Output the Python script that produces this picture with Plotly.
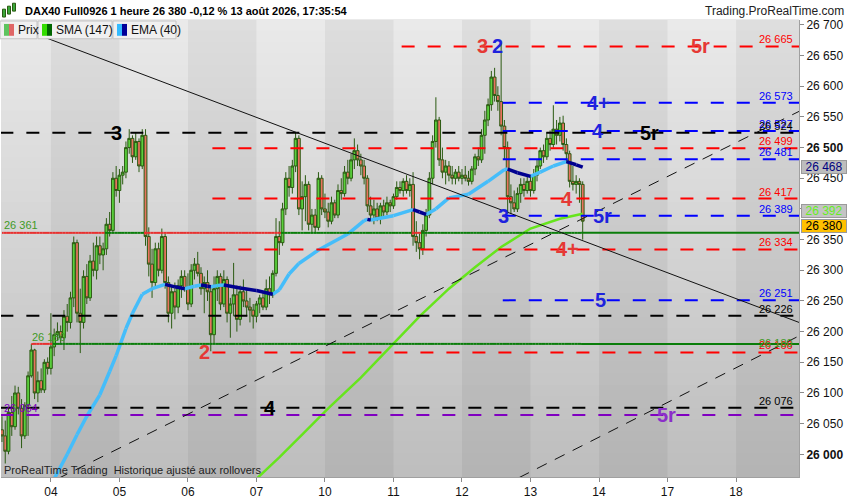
import plotly.graph_objects as go

# ---- time axis: hourly bars, 21 per session, bar 0 = Tue 04 Aug 01:00
day_labels = ['04', '05', '06', '07', '10', '11', '12', '13', '14', '17', '18']
bars_per_day = 21
first_bar = -15  # Mon 03 Aug 07:00

# ---- hourly candles
opens = [
    # 03
    26040, 26030, 26005, 26068, 26045, 26100, 26075, 26030, 26080, 26128, 26170, 26100, 26120, 26105, 26150,
    # 04
    26140, 26175, 26195, 26200, 26190, 26225, 26215, 26255, 26345, 26230, 26215, 26290, 26255, 26315, 26300,
    26340, 26325, 26335, 26375, 26365, 26450,
    # 05
    26430, 26455, 26460, 26500, 26515, 26485, 26510, 26470, 26520, 26355, 26310, 26280, 26335, 26300, 26355,
    26280, 26230, 26265, 26240, 26275, 26290,
    # 06
    26270, 26245, 26300, 26310, 26295, 26270, 26280, 26265, 26195, 26270, 26290, 26245, 26285, 26230, 26245,
    26260, 26220, 26265, 26250, 26240, 26235,
    # 07
    26225, 26245, 26255, 26240, 26270, 26260, 26295, 26355, 26345, 26400, 26450, 26435, 26470, 26515, 26400,
    26420, 26440, 26375, 26390, 26370, 26450,
    # 10
    26400, 26395, 26380, 26410, 26390, 26430, 26425, 26460, 26450, 26480, 26495, 26480, 26470, 26450, 26405,
    26390, 26400, 26385, 26405, 26395, 26410,
    # 11
    26405, 26420, 26435, 26430, 26445, 26430, 26440, 26355, 26345, 26335, 26365, 26390, 26450, 26510, 26545,
    26480, 26460, 26470, 26455, 26450, 26460,
    # 12
    26450, 26455, 26450, 26445, 26465, 26485, 26480, 26520, 26545, 26570, 26615, 26585, 26575, 26535, 26500,
    26420, 26410, 26400, 26425, 26440, 26430,
    # 13
    26445, 26430, 26455, 26470, 26495, 26485, 26515, 26505, 26530, 26520, 26540, 26505, 26490, 26445, 26440,
    26445, 26440,
]
highs = [
    26062, 26055, 26075, 26095, 26112, 26110, 26090, 26085, 26135, 26180, 26172, 26135, 26140, 26155, 26158,
    26230, 26205, 26215, 26210, 26235, 26245, 26265, 26355, 26350, 26270, 26300, 26310, 26325, 26345, 26355,
    26355, 26345, 26385, 26395, 26460, 26470,
    26465, 26470, 26510, 26530, 26520, 26525, 26515, 26530, 26530, 26370, 26335, 26345, 26345, 26368, 26360,
    26290, 26275, 26280, 26285, 26300, 26300,
    26295, 26310, 26320, 26330, 26305, 26290, 26300, 26275, 26290, 26300, 26295, 26300, 26290, 26255, 26312,
    26275, 26275, 26285, 26270, 26255, 26245,
    26250, 26260, 26265, 26285, 26290, 26300, 26385, 26380, 26410, 26460, 26470, 26480, 26525, 26520, 26445,
    26455, 26445, 26400, 26400, 26460, 26455,
    26425, 26410, 26420, 26415, 26440, 26450, 26470, 26480, 26490, 26515, 26505, 26490, 26480, 26455, 26420,
    26415, 26410, 26410, 26415, 26420, 26415,
    26425, 26445, 26445, 26450, 26455, 26450, 26460, 26380, 26360, 26375, 26400, 26460, 26520, 26582, 26550,
    26500, 26480, 26478, 26470, 26465, 26470,
    26465, 26470, 26462, 26470, 26490, 26500, 26530, 26560, 26580, 26625, 26630, 26600, 26670, 26545, 26510,
    26440, 26430, 26435, 26450, 26450, 26455,
    26455, 26465, 26480, 26500, 26505, 26525, 26528, 26569, 26545, 26550, 26552, 26515, 26495, 26470, 26455,
    26450, 26445,
]
lows = [
    26020, 25985, 26000, 26030, 26040, 26065, 26010, 26025, 26030, 26125, 26090, 26085, 26100, 26100, 26130,
    26130, 26160, 26185, 26180, 26170, 26200, 26205, 26240, 26215, 26165, 26205, 26245, 26250, 26290, 26285,
    26310, 26300, 26325, 26355, 26360, 26420,
    26410, 26440, 26450, 26490, 26475, 26480, 26460, 26465, 26340, 26290, 26255, 26270, 26290, 26295, 26270,
    26215, 26205, 26220, 26230, 26255, 26265,
    26235, 26240, 26285, 26290, 26260, 26230, 26250, 26168, 26180, 26250, 26235, 26240, 26215, 26190, 26225,
    26200, 26210, 26240, 26225, 26215, 26205,
    26215, 26230, 26235, 26235, 26245, 26255, 26290, 26325, 26340, 26390, 26420, 26425, 26460, 26390, 26365,
    26380, 26365, 26360, 26360, 26365, 26390,
    26385, 26370, 26375, 26385, 26385, 26415, 26420, 26440, 26445, 26465, 26470, 26455, 26440, 26395, 26380,
    26375, 26380, 26375, 26385, 26390, 26395,
    26400, 26415, 26425, 26420, 26425, 26420, 26340, 26330, 26318, 26325, 26355, 26385, 26440, 26500, 26470,
    26450, 26440, 26445, 26440, 26440, 26445,
    26440, 26445, 26438, 26440, 26455, 26470, 26475, 26490, 26535, 26560, 26575, 26560, 26520, 26480, 26395,
    26392, 26395, 26395, 26410, 26420, 26425,
    26420, 26425, 26445, 26465, 26475, 26480, 26495, 26500, 26505, 26510, 26495, 26475, 26435, 26430, 26425,
    26410, 26350,
]
closes = [
    26030, 26005, 26068, 26045, 26100, 26075, 26030, 26080, 26128, 26170, 26100, 26120, 26105, 26150, 26140,
    26175, 26195, 26200, 26190, 26225, 26215, 26255, 26345, 26230, 26215, 26290, 26255, 26315, 26300, 26340,
    26325, 26335, 26375, 26365, 26450, 26430,
    26455, 26460, 26500, 26515, 26485, 26510, 26470, 26520, 26355, 26310, 26280, 26335, 26300, 26355, 26280,
    26230, 26265, 26240, 26275, 26290, 26270,
    26245, 26300, 26310, 26295, 26270, 26280, 26265, 26195, 26270, 26290, 26245, 26285, 26230, 26245, 26260,
    26220, 26265, 26250, 26240, 26235, 26225,
    26245, 26255, 26240, 26270, 26260, 26295, 26355, 26345, 26400, 26450, 26435, 26470, 26515, 26400, 26420,
    26440, 26375, 26390, 26370, 26450, 26400,
    26395, 26380, 26410, 26390, 26430, 26425, 26460, 26450, 26480, 26495, 26480, 26470, 26450, 26405, 26390,
    26400, 26385, 26405, 26395, 26410, 26405,
    26420, 26435, 26430, 26445, 26430, 26440, 26355, 26345, 26335, 26365, 26390, 26450, 26510, 26545, 26480,
    26460, 26470, 26455, 26450, 26460, 26450,
    26455, 26450, 26445, 26465, 26485, 26480, 26520, 26545, 26570, 26615, 26585, 26575, 26535, 26500, 26420,
    26410, 26400, 26425, 26440, 26430, 26445,
    26430, 26455, 26470, 26495, 26485, 26515, 26505, 26530, 26520, 26540, 26505, 26490, 26445, 26440, 26445,
    26440, 26380,
]
bar_idx = list(range(first_bar, first_bar + len(closes)))

# ---- moving averages (bar, value)
ema_bars = [1, 5, 8, 11, 15, 18, 20, 23, 25, 28, 31, 35, 38, 41, 44, 46, 48, 49, 51, 53, 58, 63, 68, 70,
            73, 76, 82, 91, 96, 97, 98, 105, 111, 113, 115, 118, 122, 128, 134, 139, 140, 143, 147, 150,
            154, 158, 161, 163]
ema_vals = [25960, 26000, 26032, 26062, 26097, 26135, 26161, 26205, 26230, 26261, 26270, 26277, 26273,
            26270, 26274, 26276, 26274, 26273, 26275, 26276, 26271, 26267, 26261, 26268, 26294, 26311,
            26333, 26359, 26381, 26383, 26382, 26389, 26399, 26395, 26391, 26400, 26418, 26424, 26445,
            26464, 26465, 26459, 26453, 26460, 26470, 26477, 26472, 26468]
sma_bars = [63, 70, 77, 85, 95, 104, 113, 122, 130, 138, 147, 156, 163]
sma_vals = [25960, 25995, 26032, 26075, 26125, 26175, 26225, 26270, 26305, 26338, 26368, 26384, 26392]

# ---- drawn levels
dash_levels = [26665, 26573, 26527, 26524, 26499, 26481, 26417, 26389, 26334, 26251, 26226, 26166, 26076, 26064]
dash_starts = [108, 139, 139, first_bar, 50, 139, 50, 139, 50, 139, first_bar, 50, first_bar, first_bar]
dash_colors = ['#ff0000', '#0000ff', '#0000ff', '#000000', '#ff0000', '#0000ff', '#ff0000', '#0000ff',
               '#ff0000', '#0000ff', '#000000', '#ff0000', '#000000', '#8000c0']
right_labelled = [26665, 26573, 26527, 26524, 26499, 26481, 26417, 26389, 26334, 26251, 26226, 26166, 26076]

solid_levels = [26361, 26180]
solid_starts = [first_bar, -6]

# trend lines: (bar, price) end points
trend_solid = [(-10, 26696), (229.3, 26215)]
trend_dash_a = [(2, 25960), (229.3, 26559)]
trend_dash_b = [(143.5, 25962), (229.3, 26193)]

# wave counts written on the chart
wave_text = ['3', '2', '5r', '4+', '3', '4', '5r', '4', '3', '5r', '4+', '5', '2', '4', '5r']
wave_bar = [132.4, 137, 199, 167.7, 20.2, 167.7, 183.6, 158.2, 138.6, 169.2, 158.2, 168.6, 47.2, 67.1, 188.8]
wave_price = [26665, 26665, 26665, 26573, 26524, 26527, 26524, 26417, 26389, 26389, 26334, 26251, 26166,
              26076, 26064]
wave_color = ['#e53935', '#1e22dd', '#e53935', '#1e22dd', '#000000', '#1e22dd', '#000000', '#e53935',
              '#1e22dd', '#1e22dd', '#e53935', '#1e22dd', '#e53935', '#000000', '#8b2fc9']

y_ticks = list(range(26000, 26701, 50))

X0, X1 = -15.3, 229.3
Y0, Y1 = 25963, 26708
FONT = 'Liberation Sans, Arial, sans-serif'


def fmt(p):
    return f'{p:,}'.replace(',', ' ')


def px(x, y):
    # page pixel -> paper coords (plot spans x 1..799, y 20..483)
    return (x - 1) / 798, (483 - y) / 463


fig = go.Figure()

fig.add_trace(go.Candlestick(
    x=bar_idx, open=opens, high=highs, low=lows, close=closes,
    increasing=dict(line=dict(color='#2b5a12', width=1), fillcolor='#5ad13d'),
    decreasing=dict(line=dict(color='#2b5a12', width=1), fillcolor='#e8735f'),
    whiskerwidth=0, hoverinfo='skip', showlegend=False))

# SMA
fig.add_trace(go.Scatter(x=sma_bars, y=sma_vals, mode='lines',
                         line=dict(color='#66e51c', width=2.5), hoverinfo='skip', showlegend=False))

# EMA, dark where falling
lx, ly, dx, dy = [], [], [], []
for i in range(len(ema_bars) - 1):
    seg_x = [ema_bars[i], ema_bars[i + 1], None]
    seg_y = [ema_vals[i], ema_vals[i + 1], None]
    if ema_vals[i + 1] < ema_vals[i]:
        dx += seg_x; dy += seg_y
    else:
        lx += seg_x; ly += seg_y
fig.add_trace(go.Scatter(x=lx, y=ly, mode='lines', line=dict(color='#45bdfa', width=3.5),
                         connectgaps=False, hoverinfo='skip', showlegend=False))
fig.add_trace(go.Scatter(x=dx, y=dy, mode='lines', line=dict(color='#000090', width=3.5),
                         connectgaps=False, hoverinfo='skip', showlegend=False))

# solid levels: green while price closes above, red below
for lvl, st in zip(solid_levels, solid_starts):
    gx, gy, rx, ry = [], [], [], []
    for b, c in zip(bar_idx, closes):
        if b < st:
            continue
        xa = max(b - 0.5, st)
        xb = b + 0.5
        if b == bar_idx[-1]:
            xb = X1
        if c >= lvl:
            gx += [xa, xb, None]; gy += [lvl, lvl, None]
        else:
            rx += [xa, xb, None]; ry += [lvl, lvl, None]
    fig.add_trace(go.Scatter(x=rx, y=ry, mode='lines', line=dict(color='#e8302f', width=2),
                             hoverinfo='skip', showlegend=False))
    fig.add_trace(go.Scatter(x=gx, y=gy, mode='lines', line=dict(color='#0a7d0a', width=2),
                             hoverinfo='skip', showlegend=False))

# dashed levels
for lvl, st, col in zip(dash_levels, dash_starts, dash_colors):
    fig.add_trace(go.Scatter(x=[st - 0.5, X1], y=[lvl, lvl], mode='lines',
                             line=dict(color=col, width=2, dash='13px,13px'),
                             hoverinfo='skip', showlegend=False))

# trend lines
for pts, dash in [(trend_solid, 'solid'), (trend_dash_a, '11px,9px'), (trend_dash_b, '11px,9px')]:
    fig.add_trace(go.Scatter(x=[p[0] for p in pts], y=[p[1] for p in pts], mode='lines',
                             line=dict(color='#111111', width=1, dash=dash),
                             hoverinfo='skip', showlegend=False))

ann = []
# right-hand price tags inside the plot
for lvl, col in zip(dash_levels, dash_colors):
    if lvl in right_labelled:
        ann.append(dict(x=228.2, y=lvl, xref='x', yref='y', text=fmt(lvl), showarrow=False,
                        xanchor='right', yanchor='middle', yshift=7,
                        font=dict(family=FONT, size=11, color=col)))
ann.append(dict(x=228.2, y=26180, xref='x', yref='y', text=fmt(26180), showarrow=False,
                xanchor='right', yanchor='middle', yshift=1,
                font=dict(family=FONT, size=11, color='#3f9a27')))
# left-hand tags
ann.append(dict(x=first_bar - 0.1, y=26361, xref='x', yref='y', text=fmt(26361), showarrow=False,
                xanchor='left', yanchor='middle', yshift=8, font=dict(family=FONT, size=11, color='#3f9a27')))
ann.append(dict(x=solid_starts[1] - 0.3, y=26180, xref='x', yref='y', text=fmt(26180), showarrow=False,
                xanchor='left', yanchor='middle', yshift=7, font=dict(family=FONT, size=11, color='#3f9a27')))
ann.append(dict(x=first_bar - 0.1, y=26064, xref='x', yref='y', text=fmt(26064), showarrow=False,
                xanchor='left', yanchor='middle', yshift=7, font=dict(family=FONT, size=11, color='#8000c0')))

# wave counts
for t, b, p, c in zip(wave_text, wave_bar, wave_price, wave_color):
    ann.append(dict(x=b, y=p, xref='x', yref='y', text=f'<b>{t}</b>', showarrow=False,
                    xanchor='center', yanchor='middle', font=dict(family=FONT, size=20, color=c)))

# last-value boxes on the price scale (stacked so they do not cover each other)
for val, bg, fc, sh in [(ema_vals[-1], '#bdbdbd', '#000080', 0), (sma_vals[-1], '#c4c4c4', '#66ee22', 3),
                        (closes[-1], '#ffc000', '#000000', -5)]:
    ann.append(dict(x=1.0, y=val, xref='paper', yref='y', text=fmt(val), showarrow=False,
                    xanchor='left', yanchor='middle', xshift=2, yshift=sh, bgcolor=bg, bordercolor='#9a9a9a',
                    borderwidth=1, borderpad=0, height=12, width=44,
                    font=dict(family=FONT, size=12, color=fc)))

# header
hx, hy = px(23, 11)
ann.append(dict(x=hx, y=hy, xref='paper', yref='paper', showarrow=False, xanchor='left', yanchor='middle',
                text='<b>DAX40 Full0926 1 heure 26 380 -0,12 % 13 août 2026, 17:35:54</b>',
                font=dict(family=FONT, size=11, color='#000000')))
hx, hy = px(846, 11)
ann.append(dict(x=hx, y=hy, xref='paper', yref='paper', showarrow=False, xanchor='right', yanchor='middle',
                text='Trading.ProRealTime.com', font=dict(family=FONT, size=12, color='#222222')))
# footer note
hx, hy = px(2, 476)
ann.append(dict(x=hx, y=hy, xref='paper', yref='paper', showarrow=False, xanchor='left', yanchor='middle',
                text='ProRealTime Trading  Historique ajusté aux rollovers',
                font=dict(family=FONT, size=11, color='#222222')))

shapes = []
# vertical grey gradient
n = 40
for i in range(n):
    t = i / (n - 1)
    g = int(234 - (234 - 190) * t)
    shapes.append(dict(type='rect', xref='paper', yref='paper', x0=0, x1=1,
                       y0=1 - (i + 1) / n, y1=1 - i / n + 0.002, fillcolor=f'rgb({g},{g},{g})',
                       line=dict(width=0), layer='below'))
# alternate sessions slightly darker
for k in range(0, len(day_labels), 2):
    shapes.append(dict(type='rect', xref='x', yref='paper', x0=k * bars_per_day, x1=(k + 1) * bars_per_day,
                       y0=0, y1=1, fillcolor='rgba(0,0,0,0.05)', line=dict(width=0), layer='below'))

# legend boxes
legend = [('Prix', 0, 37, '#5ec45e', '#e06666'), ('SMA (147)', 38, 112, '#33dd00', '#006600'),
          ('EMA (40)', 113, 176, '#33bbff', '#000099')]
for name, a, b, c1, c2 in legend:
    x0, y0 = px(a, 39)
    x1, y1 = px(b, 21)
    shapes.append(dict(type='rect', xref='paper', yref='paper', x0=x0, x1=x1, y0=y0, y1=y1,
                       fillcolor='#f0f0f0', line=dict(color='#c4c4c4', width=1), layer='above'))
    sx0, sy0 = px(a + 4, 36)
    sx1, sy1 = px(a + 9, 24)
    sx2, _ = px(a + 14, 24)
    shapes.append(dict(type='rect', xref='paper', yref='paper', x0=sx0, x1=sx1, y0=sy0, y1=sy1,
                       fillcolor=c1, line=dict(width=0), layer='above'))
    shapes.append(dict(type='rect', xref='paper', yref='paper', x0=sx1, x1=sx2, y0=sy0, y1=sy1,
                       fillcolor=c2, line=dict(width=0), layer='above'))
    tx, ty = px(a + 16, 30)
    ann.append(dict(x=tx, y=ty, xref='paper', yref='paper', text=name, showarrow=False,
                    xanchor='left', yanchor='middle', font=dict(family=FONT, size=12, color='#111111')))

# small candle icon in the header
for cx, top, bot, col in [(4, 9, 17, '#3aa83a'), (9, 6, 14, '#3aa83a'), (14, 3, 11, '#3aa83a')]:
    a0, b0 = px(cx - 1.5, bot)
    a1, b1 = px(cx + 1.5, top)
    shapes.append(dict(type='rect', xref='paper', yref='paper', x0=a0, x1=a1, y0=b0, y1=b1,
                       fillcolor=col, line=dict(color='#2b5a12', width=1), layer='above'))

fig.update_layout(
    width=850, height=500,
    margin=dict(l=1, r=51, t=20, b=17),
    paper_bgcolor='#ffffff', plot_bgcolor='#d8d8d8',
    showlegend=False, hovermode=False,
    boxgap=0.15, boxgroupgap=0,
    xaxis=dict(range=[X0, X1], tickvals=[k * bars_per_day for k in range(len(day_labels))],
               ticktext=day_labels, ticks='outside', ticklen=4, tickcolor='#8a8a8a',
               showgrid=False, zeroline=False, showline=True, linecolor='#a0a0a0',
               rangeslider=dict(visible=False), tickfont=dict(family=FONT, size=12, color='#111111')),
    yaxis=dict(range=[Y0, Y1], side='right', tickvals=y_ticks,
               ticktext=[f'<b>{fmt(v)}</b>' if v % 500 == 0 else fmt(v) for v in y_ticks],
               ticks='outside', ticklen=4, tickcolor='#8a8a8a', showgrid=False, zeroline=False,
               showline=True, linecolor='#a0a0a0', tickfont=dict(family=FONT, size=12, color='#111111')),
    shapes=shapes, annotations=ann,
)

fig.write_html('out.html', config={'displayModeBar': False},
               post_script="document.body.style.margin='0';")
